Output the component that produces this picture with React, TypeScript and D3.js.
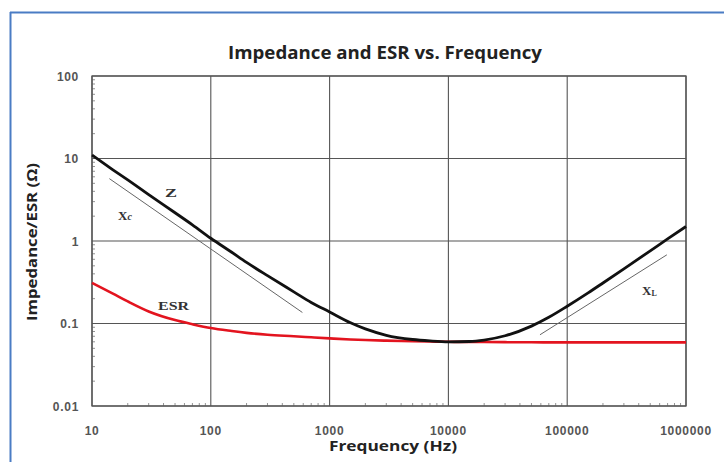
import React from "react";
import * as d3 from "d3";

const freqs = [10, 15, 20, 30, 50, 70, 100, 150, 200, 300, 500, 700, 1000, 1500, 2000, 3000, 5000, 7000, 10000, 15000, 20000, 30000, 50000, 70000, 100000, 150000, 200000, 300000, 500000, 700000, 1000000];
const zValues = [11.0, 7.3, 5.5, 3.65, 2.2, 1.57, 1.08, 0.73, 0.55, 0.38, 0.242, 0.18, 0.138, 0.102, 0.086, 0.072, 0.064, 0.0615, 0.06, 0.0605, 0.063, 0.071, 0.093, 0.119, 0.162, 0.235, 0.31, 0.46, 0.76, 1.06, 1.5];
const esrValues = [0.31, 0.23, 0.185, 0.14, 0.11, 0.098, 0.088, 0.081, 0.077, 0.073, 0.07, 0.068, 0.066, 0.064, 0.063, 0.062, 0.061, 0.0605, 0.06, 0.0598, 0.0596, 0.0594, 0.0592, 0.059, 0.059, 0.059, 0.059, 0.059, 0.059, 0.059, 0.059];
const xcFreqs = [14, 590];
const xcValues = [5.7, 0.136];
const xlFreqs = [59000, 690000];
const xlValues = [0.073, 0.68];
const xTicks = [10, 100, 1000, 10000, 100000, 1000000];
const yTicks = [0.01, 0.1, 1, 10, 100];
const yTickLabels = ["0.01", "0.1", "1", "10", "100"];

const W = 724;
const H = 462;
const L = 92, R = 686, T = 76, B = 406;

export default function App() {
  const x = d3.scaleLog().domain([10, 1000000]).range([L, R]);
  const y = d3.scaleLog().domain([0.01, 100]).range([B, T]);
  const line = d3
    .line<[number, number]>()
    .x((d) => x(d[0]))
    .y((d) => y(d[1]))
    .curve(d3.curveMonotoneX);
  const zPts = freqs.map((f, i) => [f, zValues[i]] as [number, number]);
  const esrPts = freqs.map((f, i) => [f, esrValues[i]] as [number, number]);
  const xcPts = xcFreqs.map((f, i) => [f, xcValues[i]] as [number, number]);
  const xlPts = xlFreqs.map((f, i) => [f, xlValues[i]] as [number, number]);

  const minorX: number[] = [];
  for (let d = 10; d < 1000000; d *= 10) for (let k = 2; k < 10; k++) minorX.push(d * k);
  const minorY: number[] = [];
  for (let d = 0.01; d < 99; d *= 10) for (let k = 2; k < 10; k++) minorY.push(d * k);

  const grid = "#555";
  return (
    <svg width={W} height={H} style={{ position: "absolute", left: 0, top: 0, background: "#fff" }}>
      <rect x={0} y={0} width={W} height={H} fill="#fff" />
      <line x1={10} y1={12.5} x2={W} y2={12.5} stroke="#4a7cc4" strokeWidth={2} />
      <line x1={10.5} y1={12} x2={10.5} y2={H} stroke="#4a7cc4" strokeWidth={2} />
      <text x={228} y={59} textLength={314} lengthAdjust="spacingAndGlyphs" fontFamily="'Open Sans', sans-serif" fontWeight={700} fontSize={17} fill="#222">
        Impedance and ESR vs. Frequency
      </text>
      {/* grid */}
      {xTicks.map((t) => (
        <line key={"gx" + t} x1={x(t)} x2={x(t)} y1={T} y2={B} stroke={grid} strokeWidth={1.1} />
      ))}
      {yTicks.map((t) => (
        <line key={"gy" + t} x1={L} x2={R} y1={y(t)} y2={y(t)} stroke={grid} strokeWidth={1.1} />
      ))}
      {minorX.map((t) => (
        <line key={"mx" + t} x1={x(t)} x2={x(t)} y1={B} y2={B - 3} stroke="#777" strokeWidth={0.8} />
      ))}
      {minorY.map((t) => (
        <line key={"my" + t} x1={L} x2={L + 3} y1={y(t)} y2={y(t)} stroke="#777" strokeWidth={0.8} />
      ))}
      <rect x={L} y={T} width={R - L} height={B - T} fill="none" stroke={grid} strokeWidth={1.3} />
      {/* reference lines */}
      <path d={line(xcPts) || ""} fill="none" stroke="#666" strokeWidth={1} />
      <path d={line(xlPts) || ""} fill="none" stroke="#666" strokeWidth={1} />
      {/* curves */}
      <path d={line(esrPts) || ""} fill="none" stroke="#e3141f" strokeWidth={2.6} />
      <path d={line(zPts) || ""} fill="none" stroke="#111" strokeWidth={2.8} />
      {/* curve labels */}
      <g fontFamily="'Liberation Serif', 'DejaVu Serif', serif" fontWeight={700} fontSize={13} fill="#333">
        <text x={165} y={197} textLength={12} lengthAdjust="spacingAndGlyphs">Z</text>
        <text x={118} y={220}>X<tspan fontSize={10} fontStyle="italic">c</tspan></text>
        <text x={158} y={310} fontSize={11.5} textLength={31} lengthAdjust="spacingAndGlyphs">ESR</text>
        <text x={642} y={295}>X<tspan fontSize={8} dy={1}>L</tspan></text>
      </g>
      {/* tick labels */}
      <g fontFamily="'Liberation Sans', Arial, sans-serif" fontWeight={700} fontSize={12} letterSpacing={0.7} fill="#555">
        {xTicks.map((t) => (
          <text key={"xl" + t} x={x(t)} y={435} textAnchor="middle">{t}</text>
        ))}
        {yTicks.map((t, i) => (
          <text key={"yl" + t} x={79} y={y(t) + 4.5} textAnchor="end">{yTickLabels[i]}</text>
        ))}
      </g>
      <text x={329} y={451} textLength={128} lengthAdjust="spacingAndGlyphs" fontFamily="'Open Sans', sans-serif" fontWeight={700} fontSize={14} fill="#222">
        Frequency (Hz)
      </text>
      <text transform={`translate(37, 242) rotate(-90)`} textAnchor="middle" textLength={158} lengthAdjust="spacingAndGlyphs" fontFamily="'Open Sans', sans-serif" fontWeight={700} fontSize={14} fill="#222">
        Impedance/ESR (Ω)
      </text>
    </svg>
  );
}
